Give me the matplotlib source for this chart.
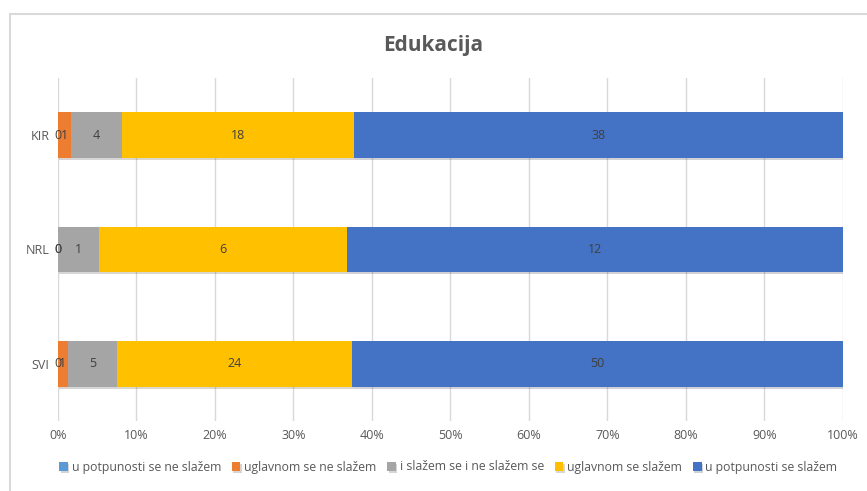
import matplotlib.pyplot as plt
import matplotlib.patheffects as pe
from matplotlib.patches import Rectangle

categories = ["SVI", "NRL", "KIR"]
series_names = ["u potpunosti se ne slažem", "uglavnom se ne slažem",
                "i slažem se i ne slažem se", "uglavnom se slažem",
                "u potpunosti se slažem"]
# counts per category (SVI, NRL, KIR)
ne_slazem_potpuno = [0, 0, 0]
ne_slazem = [1, 0, 1]
neutralno = [5, 1, 4]
slazem = [24, 6, 18]
slazem_potpuno = [50, 12, 38]
colors = ["#5B9BD5", "#ED7D31", "#A5A5A5", "#FFC000", "#4472C4"]

series = [ne_slazem_potpuno, ne_slazem, neutralno, slazem, slazem_potpuno]
totals = [sum(v) for v in zip(*series)]

plt.rcParams['font.family'] = ['Open Sans', 'DejaVu Sans']

fig = plt.figure(figsize=(8.67, 4.91), dpi=100)
ax = fig.add_axes([0.0669, 0.1426, 0.9051, 0.6986])

# light chart border like the source
fig.add_artist(Rectangle((10 / 867, -0.1), 1.1, 1 - 14 / 491 + 0.1,
                         transform=fig.transFigure, fill=False,
                         edgecolor="#D9D9D9", linewidth=1.5))

shadow = [pe.SimplePatchShadow(offset=(1, -1.5), alpha=0.2), pe.Normal()]

y = range(len(categories))
left = [0.0] * len(categories)
for name, vals, col in zip(series_names, series, colors):
    widths = [v / t for v, t in zip(vals, totals)]
    bars = ax.barh(y, widths, left=left, height=0.4, color=col, label=name,
                   zorder=3)
    for b in bars:
        b.set_path_effects(shadow)
    for i, (w, v) in enumerate(zip(widths, vals)):
        ax.text(left[i] + w / 2, i, str(v), ha="center", va="center",
                fontsize=9, color="#404040", zorder=4)
    left = [l + w for l, w in zip(left, widths)]

ax.set_xlim(0, 1)
ax.set_ylim(-0.5, 2.5)
ax.set_yticks(list(y))
ax.set_yticklabels(categories, fontsize=9, color="#595959")
ax.set_xticks([i / 10 for i in range(11)])
ax.set_xticklabels([f"{i * 10}%" for i in range(11)], fontsize=9,
                   color="#595959")
ax.tick_params(length=0, pad=6)
ax.xaxis.grid(True, color="#D9D9D9", linewidth=1, zorder=0)
for s in ax.spines.values():
    s.set_visible(False)

fig.text(0.5, 1 - 45 / 491, "Edukacija", ha="center", va="center",
         fontsize=15, fontweight="bold", color="#595959")

ax.legend(loc="center", bbox_to_anchor=(0.517, 1 - 467 / 491),
          bbox_transform=fig.transFigure, ncol=5, frameon=False,
          fontsize=8.8, handlelength=0.7, handleheight=0.7,
          handletextpad=0.3, columnspacing=0.9, labelcolor="#595959")

plt.savefig("out.png", dpi=100)
